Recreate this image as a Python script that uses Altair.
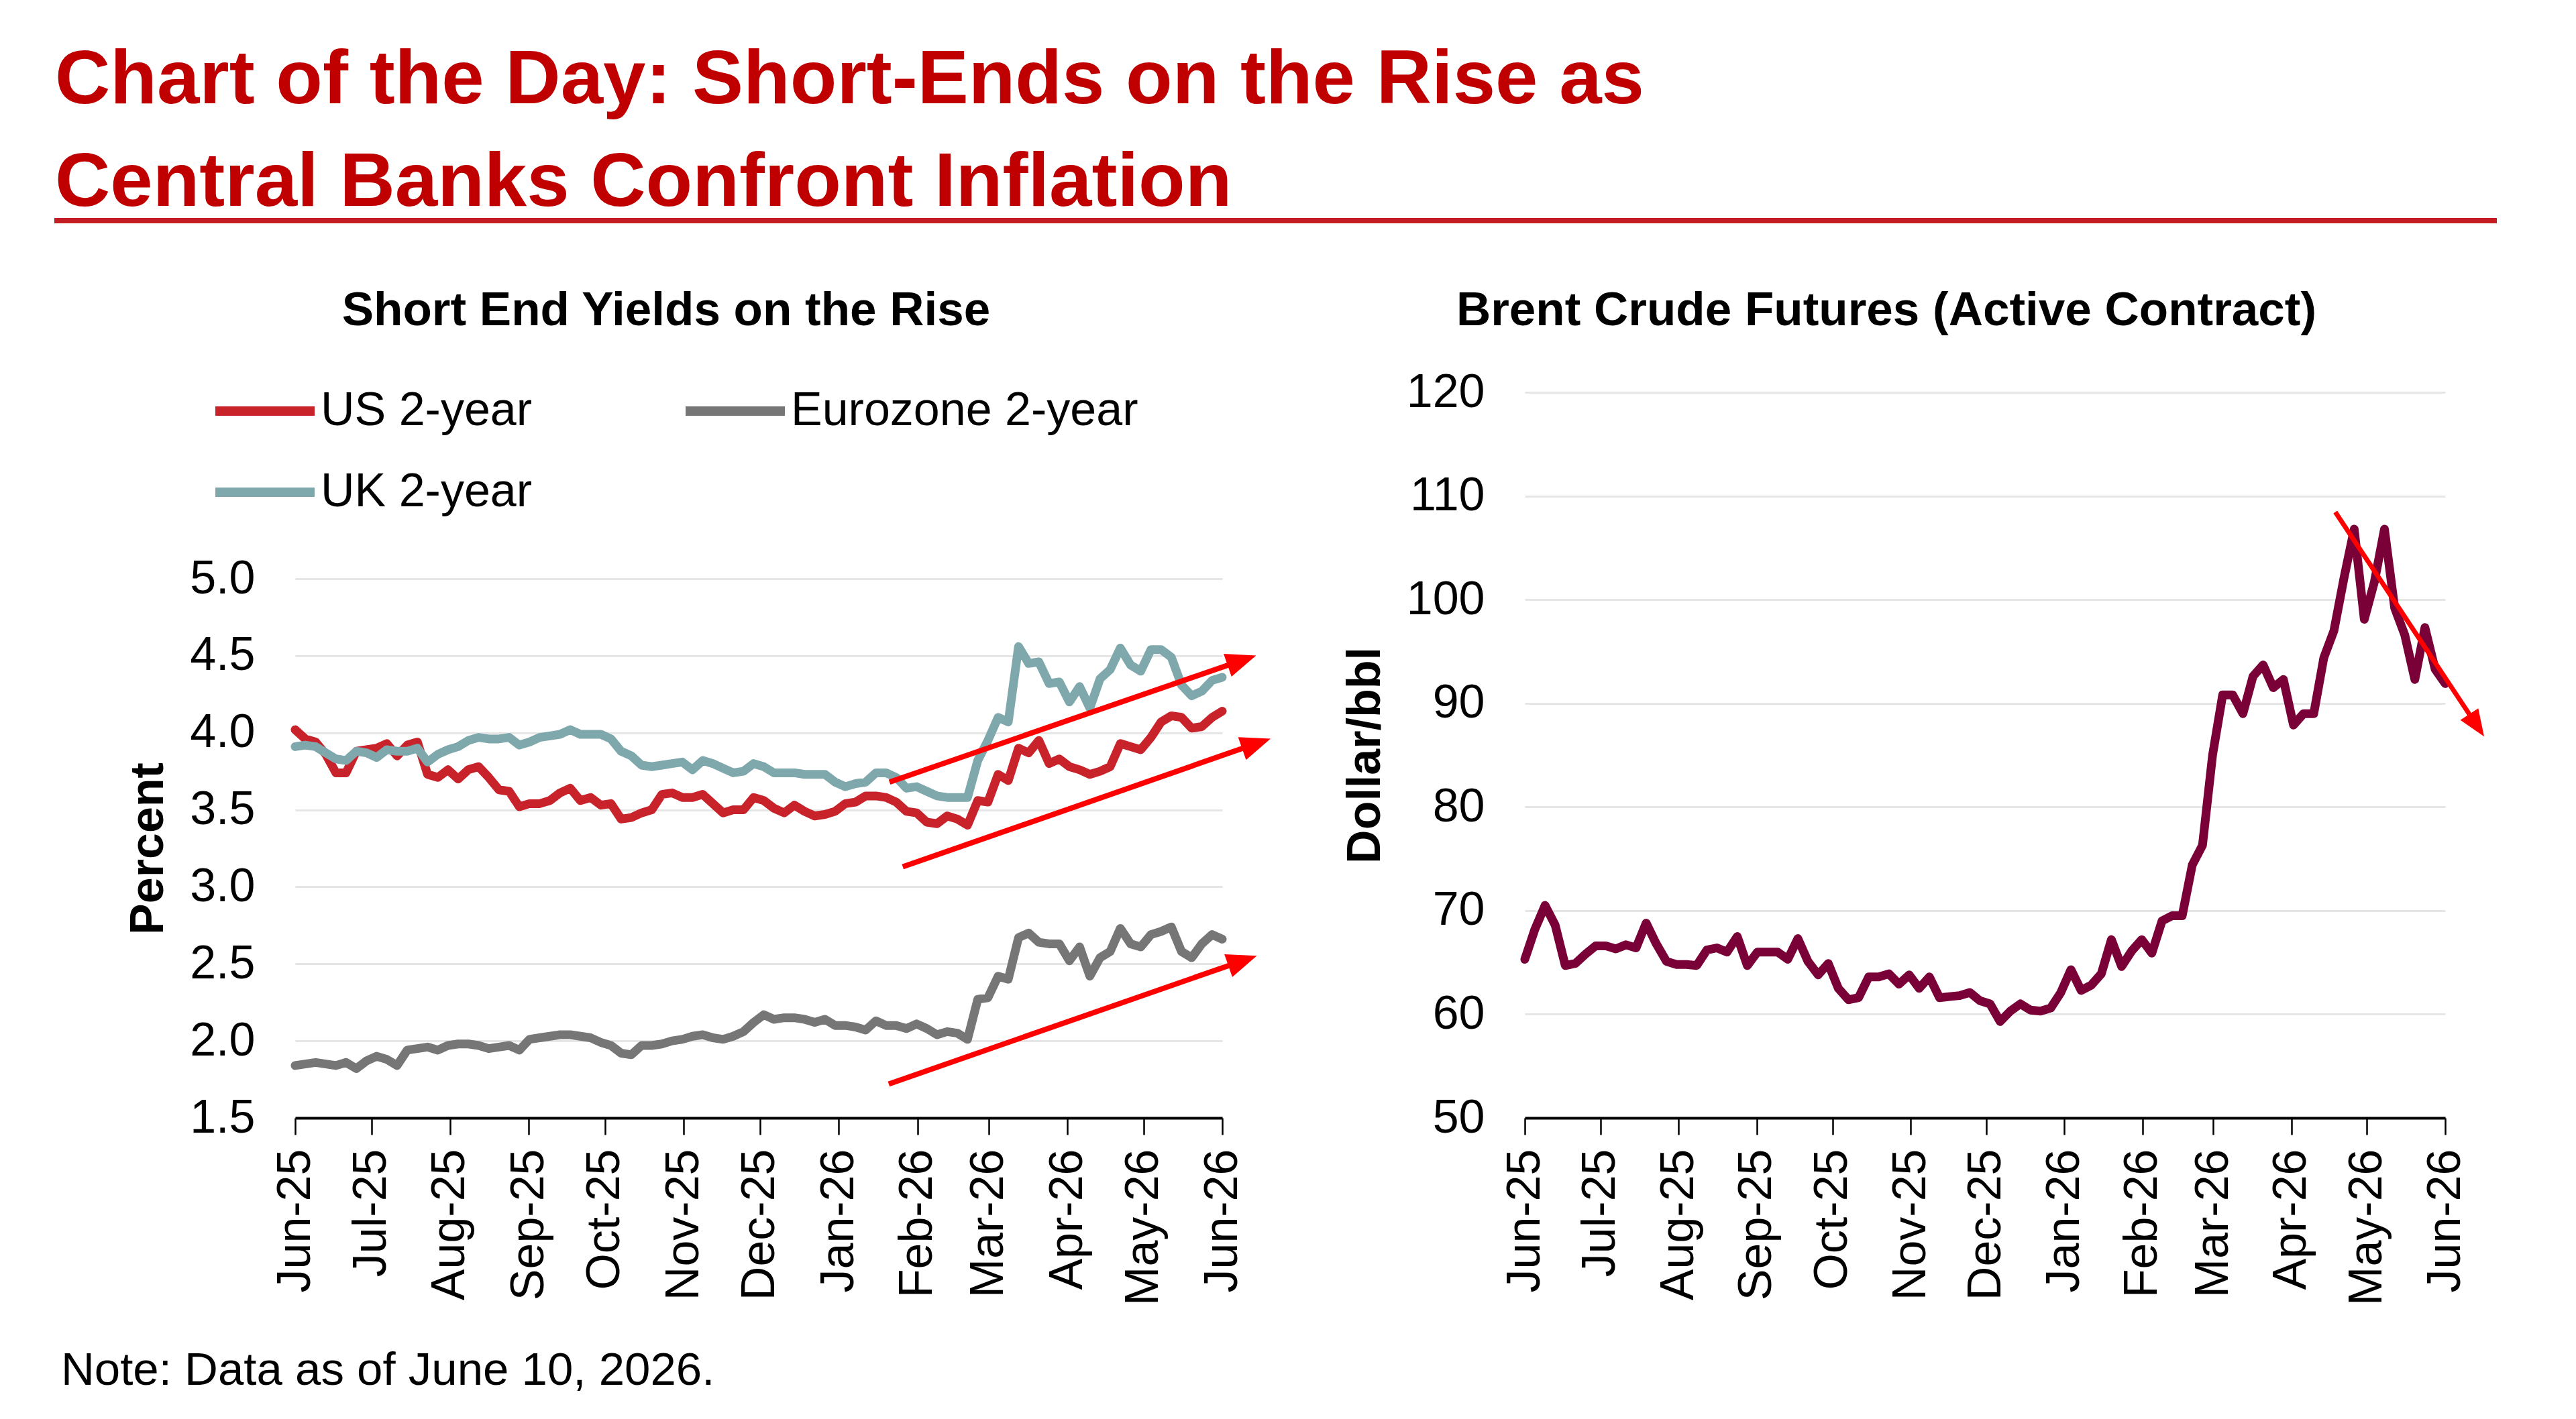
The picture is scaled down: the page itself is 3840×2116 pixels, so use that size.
import math
import altair as alt
import pandas as pd

FONT = "Liberation Sans"

# ---------------- text ----------------
MAIN_TITLE = ["Chart of the Day: Short-Ends on the Rise as",
              "Central Banks Confront Inflation"]
LEFT_SUBTITLE = "Short End Yields on the Rise"
RIGHT_SUBTITLE = "Brent Crude Futures (Active Contract)"
NOTE = "Note: Data as of June 10, 2026."
LEFT_Y_TITLE = "Percent"
RIGHT_Y_TITLE = "Dollar/bbl"

# ---------------- data ----------------
FIRST_DATE = "2025-06-10"
LAST_DATE = "2026-06-10"
N_POINTS = 92
TICK_MONTHS = [(2025, 6), (2025, 7), (2025, 8), (2025, 9), (2025, 10), (2025, 11),
               (2025, 12), (2026, 1), (2026, 2), (2026, 3), (2026, 4), (2026, 5), (2026, 6)]

SERIES_NAMES = ["US 2-year", "Eurozone 2-year", "UK 2-year"]
SERIES_COLORS = ["#C8222A", "#767676", "#7FA8AC"]
BRENT_COLOR = "#7A0038"
TITLE_RED = "#C00000"
ARROW_RED = "#FF0000"

us_2y = [4.02, 3.96, 3.94, 3.86, 3.74, 3.74, 3.88, 3.89, 3.90, 3.93, 3.85, 3.92, 3.94, 3.73, 3.71,
         3.76, 3.70, 3.76, 3.78, 3.71, 3.63, 3.62, 3.52, 3.54, 3.54, 3.56, 3.61, 3.64, 3.56, 3.58,
         3.53,
         3.54, 3.44, 3.45, 3.48, 3.50, 3.60, 3.61, 3.58, 3.58, 3.60, 3.54, 3.48, 3.50, 3.50, 3.58,
         3.56, 3.51, 3.48, 3.53, 3.49, 3.46, 3.47, 3.49, 3.54, 3.55, 3.59, 3.59, 3.58, 3.55, 3.49,
         3.48, 3.42, 3.41, 3.46, 3.44, 3.40, 3.56, 3.55, 3.73, 3.69, 3.90, 3.87, 3.95, 3.80, 3.83,
         3.78, 3.76, 3.73, 3.75, 3.78, 3.93, 3.91, 3.89, 3.97, 4.07, 4.11, 4.10, 4.03, 4.04, 4.10,
         4.14]

euro_2y = [1.84, 1.85, 1.86, 1.85, 1.84, 1.86, 1.82, 1.87, 1.90, 1.88, 1.84, 1.94, 1.95, 1.96, 1.94,
           1.97, 1.98, 1.98, 1.97, 1.95, 1.96, 1.97, 1.94, 2.01, 2.02, 2.03, 2.04, 2.04, 2.03, 2.02,
           1.99,
           1.97, 1.92, 1.91, 1.97, 1.97, 1.98, 2.00, 2.01, 2.03, 2.04, 2.02, 2.01, 2.03, 2.06, 2.12,
           2.17, 2.14, 2.15, 2.15, 2.14, 2.12, 2.14, 2.10, 2.10, 2.09, 2.07, 2.13, 2.10, 2.10, 2.08,
           2.11, 2.08, 2.04, 2.06, 2.05, 2.01, 2.27, 2.28, 2.42, 2.40, 2.67, 2.70, 2.64, 2.63, 2.63,
           2.52, 2.61, 2.42, 2.54, 2.58, 2.73, 2.63, 2.61, 2.69, 2.71, 2.74, 2.58, 2.54, 2.63, 2.69,
           2.66]

uk_2y = [3.91, 3.92, 3.91, 3.87, 3.83, 3.82, 3.88, 3.87, 3.84, 3.89, 3.88, 3.88, 3.90, 3.81, 3.86,
         3.89, 3.91, 3.95, 3.97, 3.96, 3.96, 3.97, 3.92, 3.94, 3.97, 3.98, 3.99, 4.02, 3.99, 3.99,
         3.99,
         3.96, 3.88, 3.85, 3.79, 3.78, 3.79, 3.80, 3.81, 3.76, 3.82, 3.80, 3.77, 3.74, 3.75, 3.80,
         3.78, 3.74, 3.74, 3.74, 3.73, 3.73, 3.73, 3.68, 3.65, 3.67, 3.68, 3.74, 3.74, 3.71, 3.64,
         3.65, 3.62, 3.59, 3.58, 3.58, 3.58, 3.82, 3.95, 4.10, 4.07, 4.56, 4.45, 4.46, 4.32, 4.33,
         4.20, 4.30, 4.16, 4.35, 4.41, 4.55, 4.44, 4.40, 4.54, 4.54, 4.49, 4.31, 4.24, 4.27, 4.34,
         4.36]

brent = [65.3, 68.2, 70.5, 68.6, 64.7, 64.9, 65.8, 66.6, 66.6, 66.3, 66.7, 66.4, 68.8, 66.8, 65.1,
         64.8, 64.8, 64.7, 66.2, 66.4, 66.0, 67.5, 64.7, 66.0, 66.0, 66.0, 65.3, 67.3, 65.1, 63.8,
         64.9, 62.5, 61.4, 61.6, 63.6, 63.6, 63.9, 62.9, 63.8, 62.5, 63.6, 61.6, 61.7, 61.8, 62.1,
         61.3,
         61.0, 59.3, 60.3, 61.0, 60.4, 60.3, 60.6, 62.1, 64.3, 62.3, 62.8, 63.9, 67.2, 64.6, 66.1,
         67.2, 65.9, 69.0, 69.5, 69.5, 74.4, 76.3, 85.0, 90.8, 90.8, 89.0, 92.6, 93.7, 91.5, 92.3,
         87.9, 89.0, 89.0, 94.4, 97.0, 102.1, 106.8, 98.1, 101.7, 106.8, 99.2, 96.6, 92.3, 97.3,
         93.3, 91.9]

LEFT_Y_TICKS = [1.5, 2.0, 2.5, 3.0, 3.5, 4.0, 4.5, 5.0]
RIGHT_Y_TICKS = [50, 60, 70, 80, 90, 100, 110, 120]

# trend arrows: start point -> arrow-head point
left_arrow_start_date = ["2026-01-30T00:00:00", "2026-02-04T05:00:00", "2026-01-29T17:00:00"]
left_arrow_start_value = [3.68, 3.13, 1.72]
left_arrow_end_date = ["2026-06-17T17:00:00", "2026-06-23T10:00:00", "2026-06-18T00:00:00"]
left_arrow_end_value = [4.47, 3.93, 2.52]
right_arrow_start_date = ["2026-04-27T10:00:00"]
right_arrow_start_value = [108.45]
right_arrow_end_date = ["2026-06-22T12:00:00"]
right_arrow_end_value = [87.87]

# ---------------- layout ----------------
LEFT_W = 1382
RIGHT_W = 1372
H = 1082
LEFT_TOP = 278          # y pixel of 5.0 inside left panel
GAP = 451
LINE_W = 13
ARROW_PATH = "M1,0L-1,-0.8L-1,0.8Z"

dates = list(pd.date_range(FIRST_DATE, LAST_DATE, periods=N_POINTS).round("h")
             .strftime("%Y-%m-%dT%H:%M:%S"))

yields = pd.DataFrame({
    "date": dates * 3,
    "series": sum([[s] * N_POINTS for s in SERIES_NAMES], []),
    "value": us_2y + euro_2y + uk_2y,
})
oil = pd.DataFrame({"date": dates, "value": brent})

domain_x = [alt.DateTime(year=2025, month=6, date=10), alt.DateTime(year=2026, month=6, date=10)]
tick_values = [alt.DateTime(year=y, month=m, date=10) for (y, m) in TICK_MONTHS]


def arrow_frame(sd, sv, ed, ev, ppd, ppu):
    rows = []
    for a, b, c, d in zip(sd, sv, ed, ev):
        days = (pd.Timestamp(c) - pd.Timestamp(a)).total_seconds() / 86400.0
        dx = days * ppd
        dy = -(d - b) * ppu
        ang = math.degrees(math.atan2(dy, dx)) % 360
        rows.append({"x0": a, "y0": b, "x1": c, "y1": d, "angle": ang})
    return pd.DataFrame(rows)


days_total = (pd.Timestamp(LAST_DATE) - pd.Timestamp(FIRST_DATE)).days
left_arrows = arrow_frame(left_arrow_start_date, left_arrow_start_value,
                          left_arrow_end_date, left_arrow_end_value,
                          LEFT_W / days_total, (H - LEFT_TOP) / (5.0 - 1.5))
right_arrows = arrow_frame(right_arrow_start_date, right_arrow_start_value,
                           right_arrow_end_date, right_arrow_end_value,
                           RIGHT_W / days_total, H / (120 - 50))


def x_axis():
    return alt.Axis(values=tick_values, format="%b-%y", labelAngle=270, labelFontSize=70,
                    labelPadding=21, tickSize=25, tickWidth=2.5, tickColor="black",
                    domainColor="black", domainWidth=4, grid=False, title=None,
                    labelFont=FONT, labelColor="black", labelOverlap=False, labelLimit=2000,
                    labelBound=False, labelFlush=False)


def y_axis(values, fmt, title):
    return alt.Axis(values=values, format=fmt, labelFontSize=70, labelPadding=60, ticks=False,
                    tickSize=0, domain=False, grid=True, gridColor="#E6E6E6", gridWidth=3,
                    title=title, titleFontSize=70, titleFontWeight="bold", titleFont=FONT,
                    titlePadding=25, labelFont=FONT, labelColor="black", titleColor="black",
                    labelLimit=2000)


def text_layer(txt, x, y, size, weight="normal", color="black", align="left"):
    return alt.Chart(pd.DataFrame({"label": [txt]})).mark_text(
        font=FONT, fontSize=size, fontWeight=weight, color=color, align=align,
        baseline="alphabetic").encode(text="label:N", x=alt.value(x), y=alt.value(y))


left_xscale = alt.Scale(domain=domain_x)
left_yscale = alt.Scale(domain=[1.5, 5.0], range=[H, LEFT_TOP], nice=False, zero=False)
left_yaxis = y_axis(LEFT_Y_TICKS, ".1f", LEFT_Y_TITLE)

lines_left = alt.Chart(yields).mark_line(strokeWidth=LINE_W, strokeJoin="round", strokeCap="round").encode(
    x=alt.X("date:T", scale=left_xscale, axis=x_axis()),
    y=alt.Y("value:Q", scale=left_yscale, axis=left_yaxis),
    color=alt.Color("series:N", sort=SERIES_NAMES,
                    scale=alt.Scale(domain=SERIES_NAMES, range=SERIES_COLORS),
                    legend=alt.Legend(orient="none", legendX=-126, legendY=-7, columns=2,
                                      direction="horizontal", title=None,
                                      symbolType="stroke", symbolSize=21904, symbolStrokeWidth=14,
                                      labelFontSize=70, labelFont=FONT, labelColor="black",
                                      labelOffset=2, columnPadding=221, rowPadding=51,
                                      clipHeight=70, padding=0, labelLimit=2000)),
    order=alt.Order("date:T"),
)

shafts_left = alt.Chart(left_arrows).mark_rule(color=ARROW_RED, strokeWidth=8).encode(
    x=alt.X("x0:T", scale=left_xscale, axis=x_axis()), x2="x1:T",
    y=alt.Y("y0:Q", scale=left_yscale, axis=left_yaxis), y2="y1:Q")
heads_left = alt.Chart(left_arrows).mark_point(shape=ARROW_PATH, filled=True, opacity=1,
                                                color=ARROW_RED, size=2025, strokeWidth=0).encode(
    x=alt.X("x1:T", scale=left_xscale, axis=x_axis()),
    y=alt.Y("y1:Q", scale=left_yscale, axis=left_yaxis),
    angle=alt.Angle("angle:Q", scale=None))

rule_header = alt.Chart(pd.DataFrame({"k": [0]})).mark_rule(color="#C41E24", strokeWidth=8).encode(
    x=alt.value(-359), x2=alt.value(3282), y=alt.value(-256))
pin = alt.Chart(pd.DataFrame({"k": [0]})).mark_rule(opacity=0, strokeWidth=1).encode(
    x=alt.value(-440), x2=alt.value(-440), y=alt.value(-585), y2=alt.value(-580))

left = alt.layer(
    lines_left, shafts_left, heads_left,
    text_layer(MAIN_TITLE[0], -358, -431, 114, "bold", TITLE_RED),
    text_layer(MAIN_TITLE[1], -358, -278, 114, "bold", TITLE_RED),
    rule_header,
    text_layer(LEFT_SUBTITLE, 553, -100, 71, "bold", "black", "center"),
    text_layer(NOTE, -349, 1480, 69),
    pin,
).properties(width=LEFT_W, height=H)

right_xscale = alt.Scale(domain=domain_x)
right_yscale = alt.Scale(domain=[50, 120], nice=False, zero=False)
right_yaxis = y_axis(RIGHT_Y_TICKS, "d", RIGHT_Y_TITLE)

line_right = alt.Chart(oil).mark_line(color=BRENT_COLOR, strokeWidth=LINE_W, strokeJoin="round",
                                      strokeCap="round").encode(
    x=alt.X("date:T", scale=right_xscale, axis=x_axis()),
    y=alt.Y("value:Q", scale=right_yscale, axis=right_yaxis),
    order=alt.Order("date:T"))
shaft_right = alt.Chart(right_arrows).mark_rule(color=ARROW_RED, strokeWidth=7).encode(
    x=alt.X("x0:T", scale=right_xscale, axis=x_axis()), x2="x1:T",
    y=alt.Y("y0:Q", scale=right_yscale, axis=right_yaxis), y2="y1:Q")
head_right = alt.Chart(right_arrows).mark_point(shape=ARROW_PATH, filled=True, opacity=1,
                                                 color=ARROW_RED, size=1600, strokeWidth=0).encode(
    x=alt.X("x1:T", scale=right_xscale, axis=x_axis()),
    y=alt.Y("y1:Q", scale=right_yscale, axis=right_yaxis),
    angle=alt.Angle("angle:Q", scale=None))

right = alt.layer(
    line_right, shaft_right, head_right,
    text_layer(RIGHT_SUBTITLE, 539, -100, 71, "bold", "black", "center"),
).properties(width=RIGHT_W, height=H)

chart = alt.hconcat(left, right, spacing=GAP, bounds="flush").properties(
    padding=0
).configure_view(strokeWidth=0).configure_axis(labelFont=FONT, titleFont=FONT)

chart.save("out.html", embed_options={"renderer": "svg", "actions": False})
